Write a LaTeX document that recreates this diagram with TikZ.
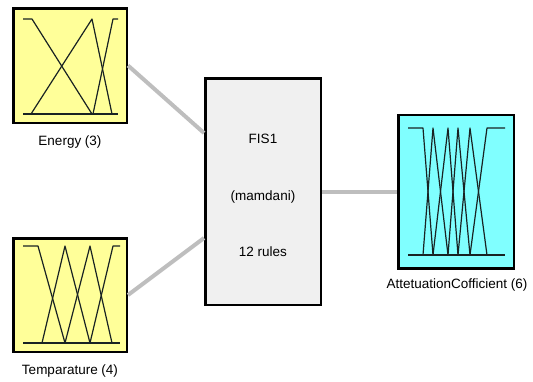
\documentclass[tikz,border=0pt]{standalone}
\usepackage{fontspec}
\setmainfont{Liberation Sans}
\usetikzlibrary{positioning}

\definecolor{inyellow}{RGB}{255,255,153}
\definecolor{outcyan}{RGB}{128,255,255}
\definecolor{fisgray}{RGB}{240,240,240}
\definecolor{wiregray}{RGB}{190,190,190}
\definecolor{mfline}{RGB}{25,35,35}

\begin{document}
\begin{tikzpicture}[x=1pt,y=-1pt,
            var node/.style={rectangle,draw=black,line width=2.5pt,inner sep=0pt},
            label node/.style={font=\fontsize{13.5}{15}\selectfont,inner sep=1pt},
            wire/.style={draw=wiregray,line width=4pt},
            mf/.style={draw=mfline,line width=1.2pt,line join=round}]

        \useasboundingbox (0,0) rectangle (533,381);

        % Define vertices
        \node[var node,fill=inyellow,minimum width=113.5pt,minimum height=114.5pt] (energy) at (70,65.5) {};
        \node[var node,fill=inyellow,minimum width=113.5pt,minimum height=113.5pt] (temp) at (70,295) {};
        \node[var node,fill=fisgray,minimum width=115.5pt,minimum height=226.5pt] (fis) at (263,191.5) {};
        \node[var node,fill=outcyan,minimum width=115.5pt,minimum height=153.5pt] (out) at (456,191.5) {};

        \node[label node] (energylabel) [below=11pt of energy] {Energy (3)};
        \node[label node] (templabel) [below=11pt of temp] {Temparature (4)};
        \node[label node,xshift=1pt] (outlabel) [below=8pt of out] {AttetuationCofficient (6)};

        \node[label node] (fisname) at (263,139) {FIS1};
        \node[label node] (fistype) at (263,197) {(mamdani)};
        \node[label node] (fisrules) at (263,252) {12 rules};

        % Draw edges
        \path[wire]
            (energy.east) edge ([yshift=58.5pt]fis.west)
            (temp.east) edge ([yshift=-46.5pt]fis.west)
            (fis.east) edge (out.west);

        % Membership functions
        \draw[mf] (23,114) -- (118,114);
        \draw[mf] (23,19) -- (32,19) -- (92,114);
        \draw[mf] (31,114) -- (92,19) -- (112,114);
        \draw[mf] (93,114) -- (113,19) -- (118,19);

        \draw[mf] (23,343) -- (120,343);
        \draw[mf] (23,246) -- (38,246) -- (65,343);
        \draw[mf] (42,343) -- (65,246) -- (90,343);
        \draw[mf] (65,343) -- (90,246) -- (112,343);
        \draw[mf] (90,343) -- (113,246) -- (120,246);

        \draw[mf] (408,255) -- (505,255);
        \draw[mf] (408,128) -- (423,128) -- (433,255);
        \draw[mf] (423,255) -- (433,128) -- (448,255);
        \draw[mf] (433,255) -- (448,128) -- (458,255);
        \draw[mf] (448,255) -- (458,128) -- (470,255);
        \draw[mf] (458,255) -- (470,128) -- (487,255);
        \draw[mf] (470,255) -- (487,128) -- (505,128);

\end{tikzpicture}
\end{document}
